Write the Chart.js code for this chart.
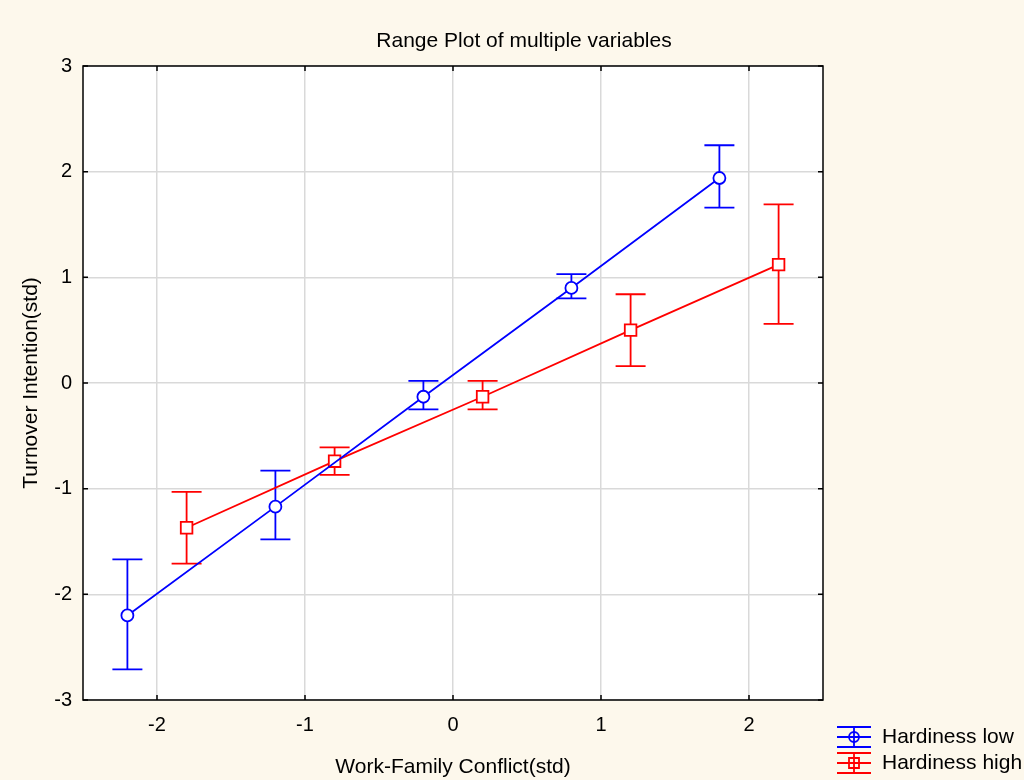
<!DOCTYPE html>
<html>
<head>
<meta charset="utf-8">
<script src="https://cdn.jsdelivr.net/npm/chart.js@4/dist/chart.umd.min.js"></script>
<style>
 html, body { margin: 0; padding: 0; background: #fdf8ec; }
 #wrap { width: 1024px; height: 780px; }
</style>
</head>
<body>
<div id="wrap"><canvas id="rangeChart" width="1024" height="780"></canvas></div>
<script>
// Werte
const lowX = [-2.2, -1.2, -0.2, 0.8, 1.8];
const lowMean = [-2.2, -1.17, -0.13, 0.9, 1.94];
const lowUpper = [-1.67, -0.83, 0.02, 1.03, 2.25];
const lowLower = [-2.71, -1.48, -0.25, 0.80, 1.66];

const highX = [-1.8, -0.8, 0.2, 1.2, 2.2];
const highMean = [-1.37, -0.74, -0.13, 0.50, 1.12];
const highUpper = [-1.03, -0.61, 0.02, 0.84, 1.69];
const highLower = [-1.71, -0.87, -0.25, 0.16, 0.56];

const xTicks = [-2, -1, 0, 1, 2];
const yTicks = [-3, -2, -1, 0, 1, 2, 3];
const labels = ["Hardiness low", "Hardiness high"];

const FONT = "'Liberation Sans', Arial, sans-serif";
const LW = 1.8;

function pts(xs, ys) {
 return xs.map((x, i) => ({ x: x, y: ys[i] }));
}

// Hintergrund, Fehlerbalken, Achsenstriche, Titel und Legende
const extras = {
 id: "extras",
 beforeDraw(chart) {
 const a = chart.chartArea;
 chart.ctx.save();
 chart.ctx.fillStyle = "#fff";
 chart.ctx.fillRect(a.left, a.top, a.right - a.left, a.bottom - a.top);
 chart.ctx.restore();
 },
 beforeDatasetsDraw(chart) {
 const ctx = chart.ctx;
 const xs = chart.scales.x, ys = chart.scales.y;
 const bars = [
 { x: lowX, up: lowUpper, lo: lowLower, color: "#0000ff" },
 { x: highX, up: highUpper, lo: highLower, color: "#ff0000" }
 ];
 ctx.save();
 ctx.lineWidth = LW;
 bars.forEach(b => {
 ctx.strokeStyle = b.color;
 b.x.forEach((v, i) => {
 const px = xs.getPixelForValue(v);
 const t = ys.getPixelForValue(b.up[i]);
 const l = ys.getPixelForValue(b.lo[i]);
 ctx.beginPath();
 ctx.moveTo(px, t); ctx.lineTo(px, l);
 ctx.moveTo(px - 15, t); ctx.lineTo(px + 15, t);
 ctx.moveTo(px - 15, l); ctx.lineTo(px + 15, l);
 ctx.stroke();
 });
 });
 ctx.restore();
 },
 afterDraw(chart) {
 const ctx = chart.ctx;
 const a = chart.chartArea;
 const xs = chart.scales.x, ys = chart.scales.y;
 ctx.save();
 // Rahmen
 ctx.strokeStyle = "#000";
 ctx.lineWidth = 1.5;
 ctx.strokeRect(a.left, a.top, a.right - a.left, a.bottom - a.top);
 // Striche nach innen
 ctx.beginPath();
 xTicks.forEach(v => {
 const px = xs.getPixelForValue(v);
 ctx.moveTo(px, a.bottom); ctx.lineTo(px, a.bottom - 5);
 ctx.moveTo(px, a.top); ctx.lineTo(px, a.top + 5);
 });
 yTicks.forEach(v => {
 const py = ys.getPixelForValue(v);
 ctx.moveTo(a.left, py); ctx.lineTo(a.left + 5, py);
 ctx.moveTo(a.right, py); ctx.lineTo(a.right - 5, py);
 });
 ctx.stroke();

 // Titel und Achsentitel
 ctx.fillStyle = "#000";
 ctx.font = "21px " + FONT;
 ctx.textAlign = "center";
 ctx.textBaseline = "middle";
 ctx.fillText("Range Plot of multiple variables", 524, 41);
 ctx.fillText("Work-Family Conflict(std)", (a.left + a.right) / 2, 767);
 ctx.save();
 ctx.translate(31, 383);
 ctx.rotate(-Math.PI / 2);
 ctx.fillText("Turnover Intention(std)", 0, 0);
 ctx.restore();

 // Legende
 const items = [
 { text: labels[0], color: "#0000ff", shape: "circle", y: 737 },
 { text: labels[1], color: "#ff0000", shape: "square", y: 763 }
 ];
 items.forEach(it => {
 const cx = 854;
 ctx.strokeStyle = it.color;
 ctx.lineWidth = LW;
 ctx.beginPath();
 ctx.moveTo(cx - 17, it.y); ctx.lineTo(cx + 17, it.y);
 ctx.moveTo(cx, it.y - 10); ctx.lineTo(cx, it.y + 10);
 ctx.moveTo(cx - 17, it.y - 10); ctx.lineTo(cx + 17, it.y - 10);
 ctx.moveTo(cx - 17, it.y + 10); ctx.lineTo(cx + 17, it.y + 10);
 ctx.stroke();
 ctx.beginPath();
 if (it.shape === "circle") ctx.arc(cx, it.y, 5, 0, Math.PI * 2);
 else ctx.rect(cx - 5, it.y - 5, 10, 10);
 ctx.stroke();
 ctx.fillStyle = "#000";
 ctx.textAlign = "left";
 ctx.fillText(it.text, 882, it.y);
 });
 ctx.restore();
 }
};

new Chart(document.getElementById("rangeChart"), {
 type: "scatter",
 data: {
 datasets: [
 {
 label: labels[0],
 data: pts(lowX, lowMean),
 showLine: true,
 borderColor: "#0000ff",
 borderWidth: LW,
 pointStyle: "circle",
 pointRadius: 6,
 pointBackgroundColor: "#fff",
 pointBorderColor: "#0000ff",
 pointBorderWidth: LW
 },
 {
 label: labels[1],
 data: pts(highX, highMean),
 showLine: true,
 borderColor: "#ff0000",
 borderWidth: LW,
 pointStyle: "rect",
 pointRadius: 8.2,
 pointBackgroundColor: "#fff",
 pointBorderColor: "#ff0000",
 pointBorderWidth: LW
 }
 ]
 },
 options: {
 responsive: false,
 animation: false,
 layout: { padding: { top: 66, right: 201, left: 0, bottom: 0 } },
 plugins: {
 legend: { display: false },
 tooltip: { enabled: false }
 },
 scales: {
 x: {
 type: "linear",
 min: -2.5,
 max: 2.5,
 afterBuildTicks: s => { s.ticks = xTicks.map(v => ({ value: v })); },
 afterFit: s => { s.height = 80; },
 grid: { color: "#d9d9d9", lineWidth: 1.5, drawTicks: false },
 border: { display: false },
 ticks: { color: "#000", font: { family: FONT, size: 20 }, padding: 13 },
 title: { display: false }
 },
 y: {
 type: "linear",
 min: -3,
 max: 3,
 afterBuildTicks: s => { s.ticks = yTicks.map(v => ({ value: v })); },
 afterFit: s => { s.width = 83; },
 grid: { color: "#d9d9d9", lineWidth: 1.5, drawTicks: false },
 border: { display: false },
 ticks: { color: "#000", font: { family: FONT, size: 20 }, padding: 11 },
 title: { display: false }
 }
 }
 },
 plugins: [extras]
});
</script>
</body>
</html>
